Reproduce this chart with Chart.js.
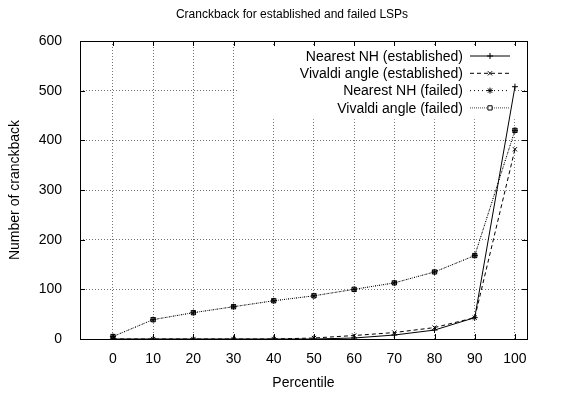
<!DOCTYPE html>
<html lang="en">
<head>
  <meta charset="UTF-8">
  <title>Cranckback</title>
  <script src="https://cdn.jsdelivr.net/npm/chart.js"></script>
  <style>
    html, body { margin: 0; padding: 0; background: #fff; }
  </style>
</head>
<body>
  <canvas id="myChart" width="572" height="395"></canvas>

  <script>
    // values
    const percentiles = [0, 10, 20, 30, 40, 50, 60, 70, 80, 90, 100];
    const nearestEst = [0, 0, 0, 0, 0, 0, 2, 8, 18, 43, 508];
    const vivaldiEst = [0, 0, 0, 0, 0, 2, 7, 13, 23, 43, 382];
    const nearestFail = [5, 39, 53, 65, 77, 87, 100, 113, 135, 168, 420];
    const vivaldiFail = [5, 39, 53, 65, 77, 87, 100, 113, 135, 168, 420];
    const yTicks = [0, 100, 200, 300, 400, 500, 600];

    const FONT = "'Liberation Sans', Arial, sans-serif";
    Chart.defaults.font.family = FONT;
    Chart.defaults.font.size = 14;
    Chart.defaults.color = '#000';

    function pts(arr) {
      return percentiles.map((x, i) => ({ x: x, y: arr[i] }));
    }

    function drawMarker(ctx, style, x, y, r) {
      if (Chart.helpers && Chart.helpers.drawPoint) {
        Chart.helpers.drawPoint(ctx, { pointStyle: style, radius: r, rotation: 0, borderWidth: 1 }, x, y);
        return;
      }
      ctx.beginPath();
      ctx.moveTo(x - r, y); ctx.lineTo(x + r, y);
      ctx.moveTo(x, y - r); ctx.lineTo(x, y + r);
      ctx.stroke();
    }

    // gnuplot style key, frame and inward ticks
    const gnuplotBits = {
      id: 'gnuplotBits',
      beforeDatasetsDraw(chart) {
        const ctx = chart.ctx;
        const a = chart.chartArea;
        const sets = chart.data.datasets;
        ctx.save();
        ctx.font = '14px ' + FONT;
        const textRight = a.right - 64;
        const x1 = a.right - 57, x2 = a.right - 17;
        const y0 = a.top + 15, step = 17.3;
        let w = 0;
        sets.forEach(d => { w = Math.max(w, ctx.measureText(d.label).width); });
        ctx.fillStyle = '#fff';
        const bx = textRight - w - 62;
        ctx.fillRect(bx, a.top + 4, x2 + 5 - bx, step * sets.length + 5);

        sets.forEach((d, i) => {
          const y = y0 + i * step;
          ctx.fillStyle = '#000';
          ctx.textAlign = 'right';
          ctx.textBaseline = 'middle';
          ctx.fillText(d.label, textRight, y + 1);
          ctx.strokeStyle = d.borderColor;
          ctx.lineWidth = 1;
          ctx.setLineDash(d.borderDash || []);
          ctx.beginPath();
          ctx.moveTo(x1, y); ctx.lineTo(x2, y);
          ctx.stroke();
          ctx.setLineDash([]);
          ctx.strokeStyle = '#000';
          ctx.fillStyle = '#fff';
          drawMarker(ctx, d.pointStyle, (x1 + x2) / 2, y, 3);
        });
        ctx.restore();
      },
      afterDraw(chart) {
        const ctx = chart.ctx;
        const a = chart.chartArea;
        const xs = chart.scales.x, ys = chart.scales.y;
        ctx.save();
        ctx.strokeStyle = '#000';
        ctx.lineWidth = 1;
        ctx.setLineDash([]);
        ctx.beginPath();
        percentiles.forEach(v => {
          const px = Math.round(xs.getPixelForValue(v)) + 0.5;
          ctx.moveTo(px, a.bottom); ctx.lineTo(px, a.bottom - 5);
          ctx.moveTo(px, a.top); ctx.lineTo(px, a.top + 5);
        });
        yTicks.forEach(v => {
          const py = Math.round(ys.getPixelForValue(v)) + 0.5;
          ctx.moveTo(a.left, py); ctx.lineTo(a.left + 5, py);
          ctx.moveTo(a.right, py); ctx.lineTo(a.right - 5, py);
        });
        ctx.stroke();
        ctx.strokeRect(Math.round(a.left) + 0.5, Math.round(a.top) + 0.5,
          Math.round(a.right - a.left), Math.round(a.bottom - a.top));
        ctx.restore();
      }
    };

    const ctx = document.getElementById('myChart');
    const myChart = new Chart(ctx, {
      type: 'line',
      data: {
        datasets: [{
          label: 'Nearest NH (established)',
          data: pts(nearestEst),
          borderColor: '#000',
          borderWidth: 1,
          pointStyle: 'cross',
          pointRadius: 3,
          pointBorderWidth: 1,
          pointBorderColor: '#000',
          tension: 0
        }, {
          label: 'Vivaldi angle (established)',
          data: pts(vivaldiEst),
          borderColor: '#000',
          borderWidth: 1,
          borderDash: [4, 3],
          pointStyle: 'crossRot',
          pointRadius: 3,
          pointBorderWidth: 1,
          pointBorderColor: '#000',
          tension: 0
        }, {
          label: 'Nearest NH (failed)',
          data: pts(nearestFail),
          borderColor: '#000',
          borderWidth: 1,
          borderDash: [1, 3],
          pointStyle: 'star',
          pointRadius: 3,
          pointBorderWidth: 1,
          pointBorderColor: '#000',
          tension: 0
        }, {
          label: 'Vivaldi angle (failed)',
          data: pts(vivaldiFail),
          borderColor: '#444',
          borderWidth: 1,
          borderDash: [1, 1],
          pointStyle: 'rect',
          pointRadius: 3,
          pointBorderWidth: 1,
          pointBorderColor: '#000',
          pointBackgroundColor: 'rgba(0,0,0,0)',
          tension: 0
        }]
      },
      options: {
        responsive: false,
        animation: false,
        layout: { padding: { left: 12, right: 0, top: 0, bottom: 0 } },
        plugins: {
          legend: { display: false },
          tooltip: { enabled: false },
          title: {
            display: true,
            text: 'Cranckback for established and failed LSPs',
            font: { size: 12, weight: 'normal' },
            padding: { top: 7, bottom: 19.6 }
          }
        },
        scales: {
          x: {
            type: 'linear',
            min: -8.2,
            max: 103,
            afterBuildTicks: axis => { axis.ticks = percentiles.map(v => ({ value: v })); },
            afterFit: axis => { axis.height = 56; },
            ticks: { padding: 12, maxRotation: 0, autoSkip: false },
            grid: { color: 'rgba(0,0,0,0.55)', drawTicks: false },
            border: { display: false, dash: [1, 2] },
            title: { display: true, text: 'Percentile', padding: { top: 0, bottom: 3 } }
          },
          y: {
            min: 0,
            max: 600,
            afterBuildTicks: axis => { axis.ticks = yTicks.map(v => ({ value: v })); },
            afterFit: axis => { axis.width = 68; },
            ticks: { padding: 18 },
            grid: { color: 'rgba(0,0,0,0.55)', drawTicks: false },
            border: { display: false, dash: [1, 2] },
            title: { display: true, text: 'Number of cranckback', padding: { top: -5, bottom: 0 } }
          },
          // empty margin on the right, as in the original
          yRight: {
            position: 'right',
            min: 0,
            max: 600,
            afterFit: axis => { axis.width = 45; },
            ticks: { display: false },
            grid: { display: false, drawOnChartArea: false },
            border: { display: false }
          }
        }
      },
      plugins: [gnuplotBits]
    });
  </script>
</body>
</html>
